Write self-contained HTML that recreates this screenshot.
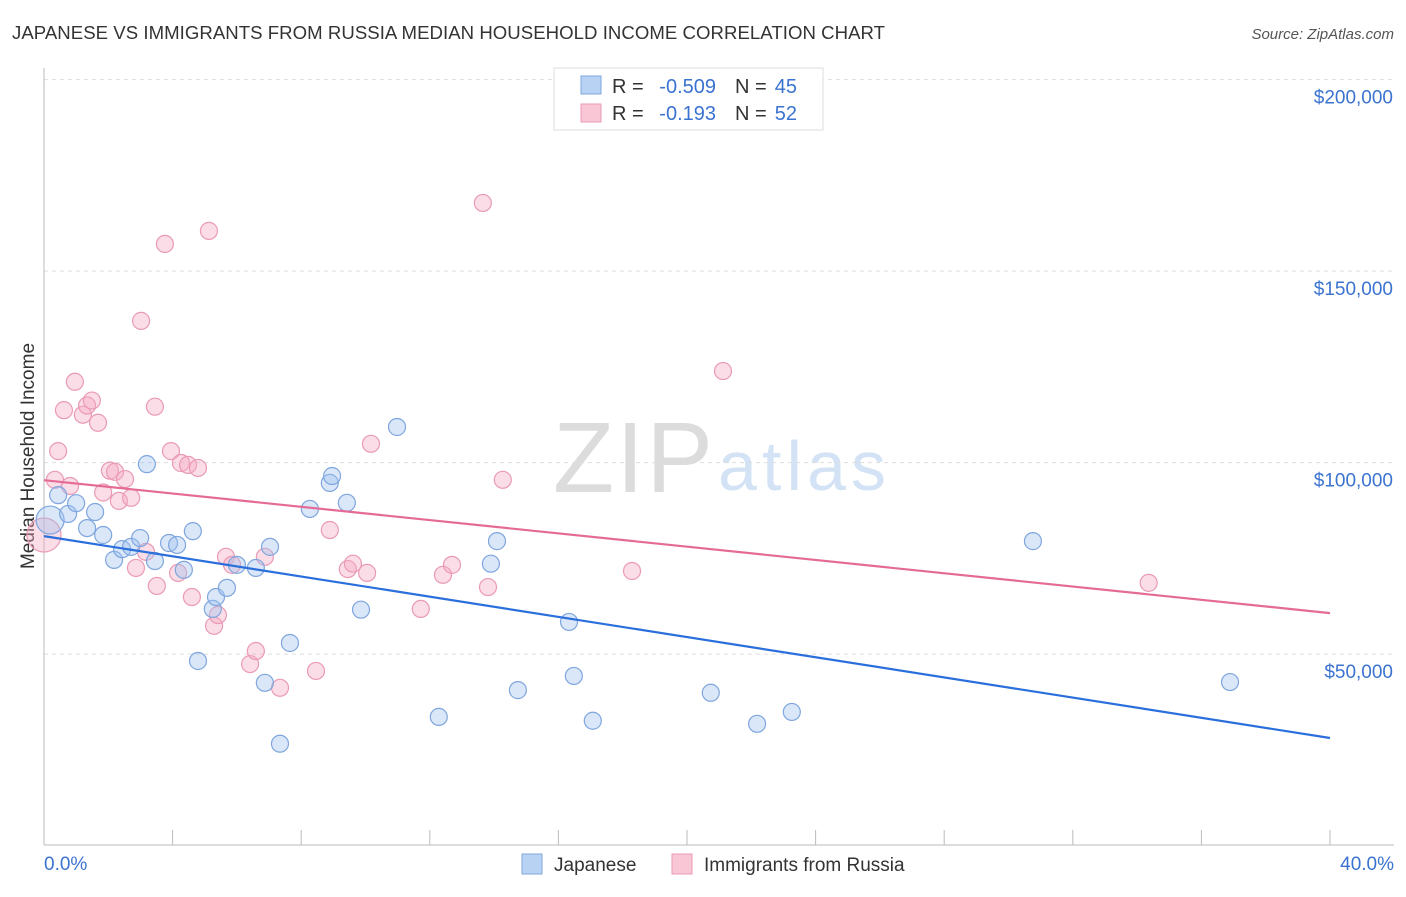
<!DOCTYPE html>
<html><head><meta charset="utf-8"><style>
body{margin:0;background:#fff;font-family:"Liberation Sans",sans-serif;}
svg text{font-family:"Liberation Sans",sans-serif;}
</style></head><body>
<svg id="c" width="1406" height="892" xmlns="http://www.w3.org/2000/svg">
<text x="12" y="39" font-size="18.6" fill="#333" textLength="873">JAPANESE VS IMMIGRANTS FROM RUSSIA MEDIAN HOUSEHOLD INCOME CORRELATION CHART</text>
<text x="1394" y="39" font-size="15" fill="#555" font-style="italic" text-anchor="end">Source: ZipAtlas.com</text>
<g>
<text x="553" y="492" font-size="100" fill="#dcdcdc" font-family="Liberation Serif,serif" textLength="160">ZIP</text>
<text x="718" y="490" font-size="70" fill="#d3e3f5" textLength="168">atlas</text>
</g>
<text transform="translate(34,456) rotate(-90)" font-size="19" fill="#333" text-anchor="middle">Median Household Income</text>
<g id="grid"></g><g id="pts"></g><g id="lines"></g>
<g>
<rect x="554" y="68" width="269" height="62" fill="#fff" stroke="#ddd"/>
<rect x="581" y="76" width="20" height="18" fill="#b8d2f4" stroke="#7fa6de"/>
<rect x="581" y="104" width="20" height="18" fill="#f8c6d5" stroke="#ea9ab4"/>
<text x="612" y="93" font-size="20" fill="#333">R =</text>
<text x="716" y="93" font-size="20" fill="#3b73d1" text-anchor="end">-0.509</text>
<text x="735" y="93" font-size="20" fill="#333">N =</text>
<text x="797" y="93" font-size="20" fill="#3b73d1" text-anchor="end">45</text>
<text x="612" y="120" font-size="20" fill="#333">R =</text>
<text x="716" y="120" font-size="20" fill="#3b73d1" text-anchor="end">-0.193</text>
<text x="735" y="120" font-size="20" fill="#333">N =</text>
<text x="797" y="120" font-size="20" fill="#3b73d1" text-anchor="end">52</text>
</g>
<g>
<rect x="522" y="854" width="20" height="20" fill="#b8d2f4" stroke="#7fa6de"/>
<text x="554" y="871" font-size="19" fill="#333">Japanese</text>
<rect x="672" y="854" width="20" height="20" fill="#f8c6d5" stroke="#ea9ab4"/>
<text x="704" y="871" font-size="19" fill="#333">Immigrants from Russia</text>
</g>
</svg>
<script>
const bx=[0.19,0.44,0.75,1.0,1.34,1.59,1.84,2.18,2.43,2.71,2.99,3.2,3.45,3.89,4.14,4.35,4.63,4.79,5.25,5.35,5.69,6.0,6.59,6.87,7.03,7.34,7.65,8.27,8.89,8.96,9.42,9.86,10.98,12.28,13.9,14.09,14.74,16.33,16.48,17.07,20.74,22.18,23.26,30.76,36.89];
const by=[85.0,91.5,86.6,89.4,82.9,87.1,81.1,74.6,77.4,78.0,80.3,99.6,74.3,79.0,78.5,72.0,82.1,48.2,61.8,64.9,67.3,73.3,72.5,42.5,78.0,26.6,52.9,87.9,94.7,96.5,89.5,61.6,109.3,33.6,73.6,79.5,40.6,58.4,44.3,32.6,39.9,31.8,34.9,79.5,42.7];
const px=[0,0.34,0.44,0.62,0.81,0.96,1.21,1.34,1.49,1.68,1.84,2.05,2.21,2.33,2.52,2.71,2.86,3.02,3.17,3.45,3.51,3.76,3.95,4.17,4.26,4.48,4.6,4.79,5.13,5.29,5.41,5.66,5.85,6.41,6.59,6.87,7.34,8.46,8.89,9.45,9.61,10.05,10.17,11.72,12.41,12.69,13.81,13.65,14.27,18.29,21.12,34.36];
const py=[81.1,95.5,103.0,113.7,93.9,121.1,112.5,114.9,116.2,110.4,92.2,97.9,97.6,90.0,95.7,90.8,72.5,137.0,76.7,114.6,67.8,157.1,103.0,71.2,99.9,99.4,64.9,98.6,160.5,57.4,60.2,75.4,73.3,47.4,50.8,75.4,41.2,45.6,82.4,72.2,73.6,71.2,104.9,61.8,70.7,73.3,67.5,167.8,95.5,71.7,123.9,68.6];
const yTicks=[50,100,150,200];
const yTickLabels=["$50,000","$100,000","$150,000","$200,000"];
const xTickLabels=["0.0%","40.0%"];
const blueTrend=[80.8,28.1];
const pinkTrend=[95.4,60.7];
const NS="http://www.w3.org/2000/svg";
const X=v=>44+v/40*1286, Y=v=>845.6-v*3.83;
function mk(p,t,a){const e=document.createElementNS(NS,t);for(const k in a)e.setAttribute(k,a[k]);p.appendChild(e);return e;}
const g=document.getElementById('grid');
yTicks.forEach((t,i)=>{
 const l=mk(g,'line',{x1:44,x2:1394,y1:Y(t),y2:Y(t),stroke:'#ddd','stroke-dasharray':'4,4'});
 
 
 const tx=mk(g,'text',{x:1393,y:Y(t)+24,'font-size':19,fill:'#3b73d1','text-anchor':'end'});
 tx.textContent=yTickLabels[i];
 
 
});
const ax=mk(g,'line',{x1:44,x2:44,y1:68,y2:845,stroke:'#bbb'});


const bx2=mk(g,'line',{x1:44,x2:1394,y1:845,y2:845,stroke:'#bbb'});


for(let i=0;i<=10;i++){mk(g,'line',{x1:X(i*4),x2:X(i*4),y1:830,y2:845,stroke:'#bbb'});}
const t0=mk(g,'text',{x:44,y:870,'font-size':19,fill:'#3b73d1'});t0.textContent=xTickLabels[0];


const t1=mk(g,'text',{x:1394,y:870,'font-size':19,fill:'#3b73d1','text-anchor':'end'});t1.textContent=xTickLabels[1];


const P=document.getElementById('pts');
px.forEach((v,i)=>{
 const c=mk(P,'circle',{cx:X(v),cy:Y(py[i]),r:i==0?17:8.5,fill:'rgba(244,170,196,0.4)',stroke:'#ea9ab4','stroke-width':1.2});
 
 
});
bx.forEach((v,i)=>{
 const c=mk(P,'circle',{cx:X(v),cy:Y(by[i]),r:i==0?14:8.5,fill:'rgba(160,195,240,0.4)',stroke:'#7fa6de','stroke-width':1.2});
 
 
});
const L=document.getElementById('lines');
const lb=mk(L,'line',{x1:X(0),y1:Y(blueTrend[0]),x2:X(40),y2:Y(blueTrend[1]),stroke:'#2a6fdb','stroke-width':2.2});


const lp=mk(L,'line',{x1:X(0),y1:Y(pinkTrend[0]),x2:X(40),y2:Y(pinkTrend[1]),stroke:'#e56b97','stroke-width':2.2});


</script>
</body></html>
